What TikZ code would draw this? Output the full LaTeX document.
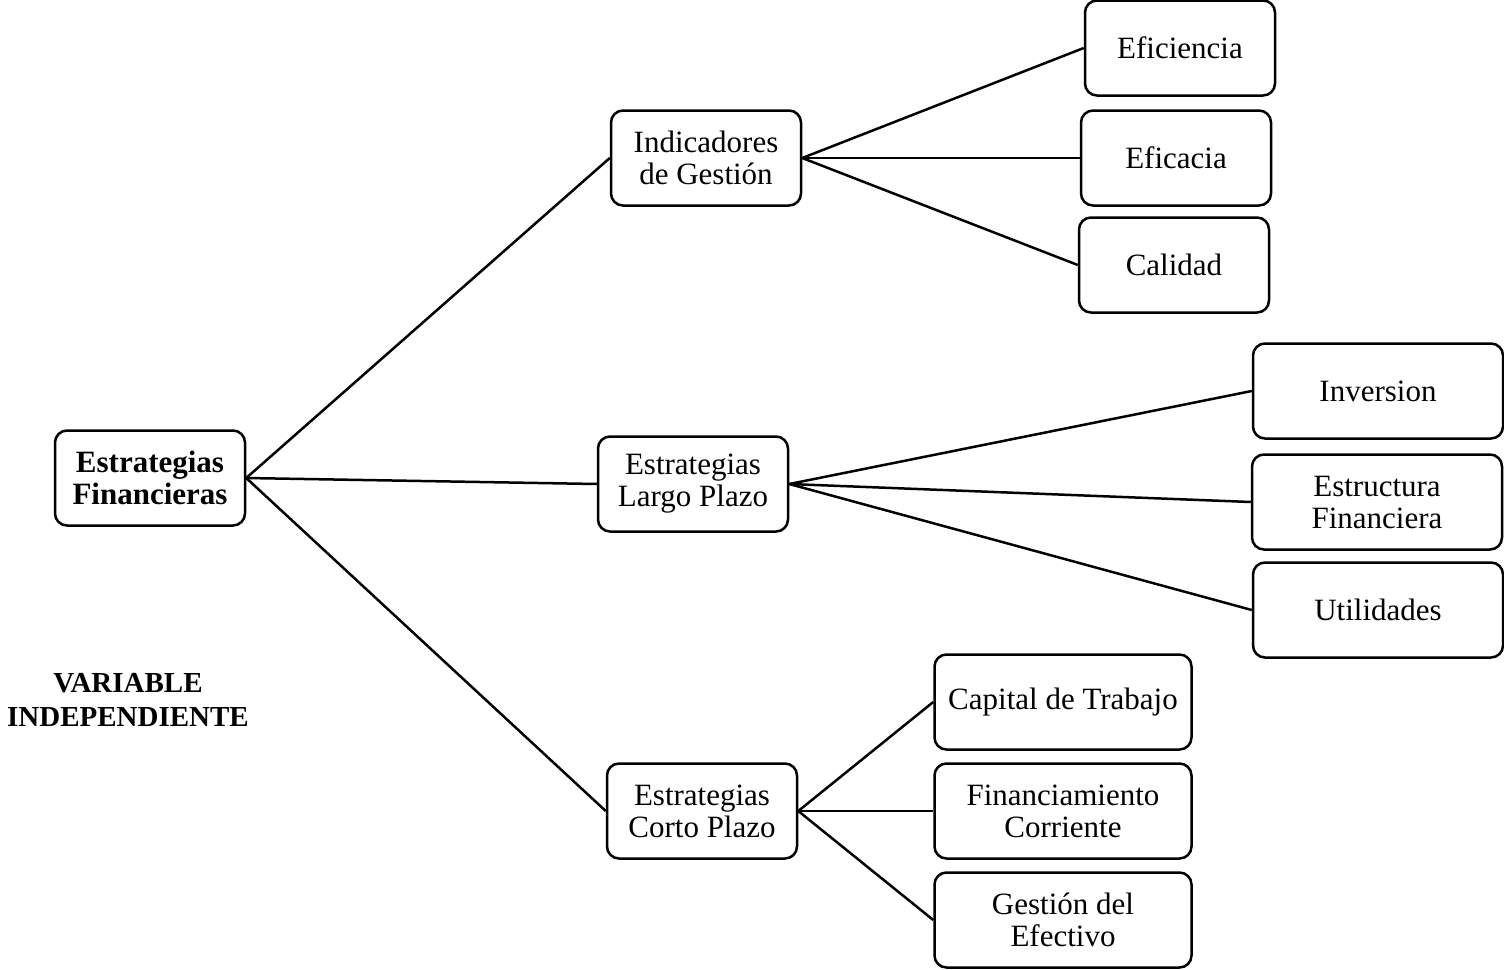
\documentclass[tikz,border=0pt]{standalone}
\usepackage{fontspec}
\setmainfont{Liberation Serif}

\begin{document}
\begin{tikzpicture}[x=1pt, y=-1pt,
    box/.style={draw, line width=2.5pt, rounded corners=12pt, align=center,
      minimum height=95pt, inner sep=4pt, font=\fontsize{31}{32}\selectfont},
    mid/.style={box, minimum width=190pt},
    wide/.style={box, minimum width=250pt},
    wider/.style={box, minimum width=257pt},
    link/.style={line width=2.5pt}]
                \useasboundingbox (0,0) rectangle (1504,969);
                \node[mid, font=\fontsize{31}{32}\selectfont\bfseries] (EF) at (150,478) {Estrategias\\Financieras};
                \node[font=\fontsize{29}{34}\selectfont\bfseries, align=center] (VI) at (128,700) {VARIABLE\\INDEPENDIENTE};
                \node[mid] (IG) at (706,158) {Indicadores\\de Gestión};
                \node[mid] (LP) at (693,484) {Estrategias\\Largo Plazo};
                \node[mid] (CP) at (702,811) {Estrategias\\Corto Plazo};
                \node[mid] (Efi) at (1180,48) {Eficiencia};
                \node[mid] (Efa) at (1176,158) {Eficacia};
                \node[mid] (Cal) at (1174,265) {Calidad};
                \node[wide] (Inv) at (1378,391) {Inversion};
                \node[wide] (Est) at (1377,502) {Estructura\\Financiera};
                \node[wide] (Uti) at (1378,610) {Utilidades};
                \node[wider] (Cap) at (1063,702) {Capital de Trabajo};
                \node[wider] (Fin) at (1063,811) {Financiamiento\\Corriente};
                \node[wider] (Ges) at (1063,920) {Gestión del\\Efectivo};
                \foreach \a/\b in {EF/IG, EF/LP, EF/CP, IG/Efi, IG/Efa, IG/Cal,
                  LP/Inv, LP/Est, LP/Uti, CP/Cap, CP/Fin, CP/Ges}
                  \draw[link] (\a.east) -- (\b.west);
            \end{tikzpicture}
\end{document}
